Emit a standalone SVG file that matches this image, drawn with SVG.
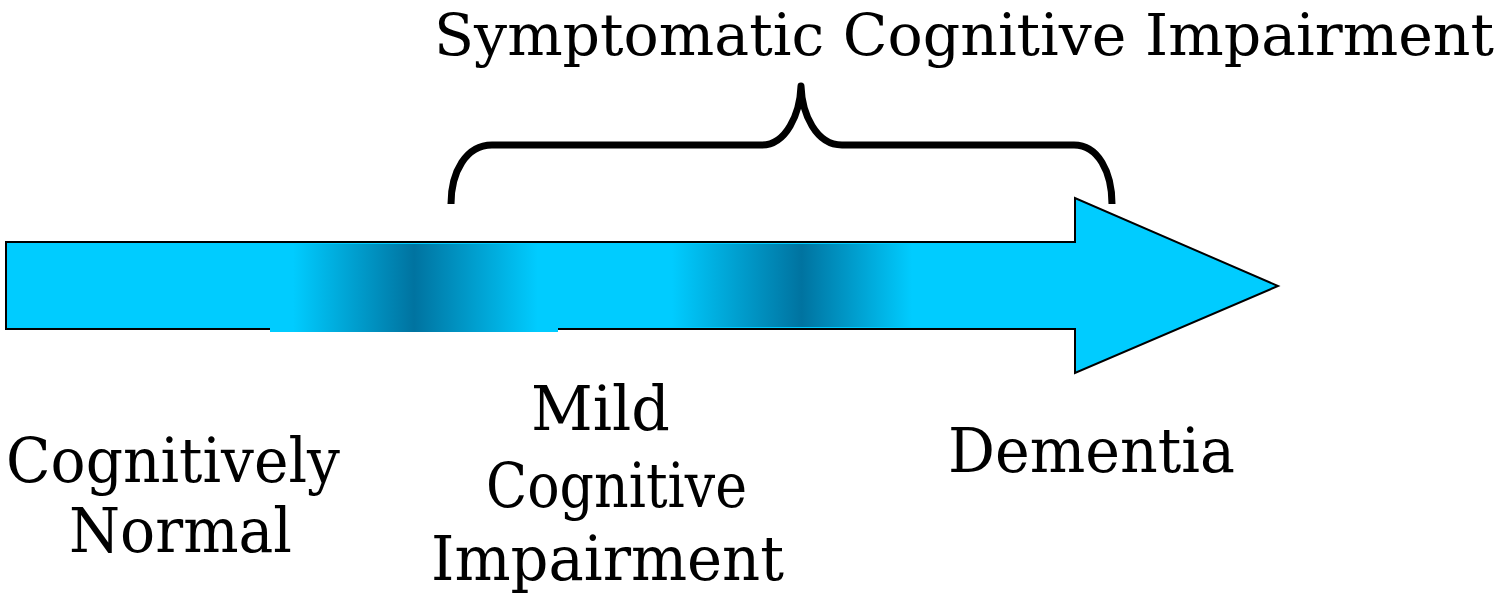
<svg xmlns="http://www.w3.org/2000/svg" width="1503" height="596" viewBox="0 0 1503 596">
  <style>
    .lbl { font-family: "DejaVu Serif", "Liberation Serif", serif; font-size: 62px; fill: #000; }
    .title { font-size: 58px; }
    .arrow { fill: #00CCFF; stroke: #000; stroke-width: 2; stroke-linejoin: miter; }
    .brace { fill: none; stroke: #000; stroke-width: 7; stroke-linejoin: round; }
  </style>
  <defs>
    <linearGradient id="band1" x1="0" y1="0" x2="1" y2="0">
      <stop offset="0" stop-color="#00CCFF"/>
      <stop offset="0.08" stop-color="#00CCFF"/>
      <stop offset="0.5" stop-color="#0073A0"/>
      <stop offset="0.93" stop-color="#00CCFF"/>
      <stop offset="1" stop-color="#00CCFF"/>
    </linearGradient>
    <linearGradient id="band2" x1="0" y1="0" x2="1" y2="0">
      <stop offset="0" stop-color="#00CCFF"/>
      <stop offset="0.54" stop-color="#0073A0"/>
      <stop offset="1" stop-color="#00CCFF"/>
    </linearGradient>
  </defs>

  <g id="timeline-arrow">
    <path class="arrow" d="M6,242 L1075,242 L1075,198 L1278,286 L1075,373 L1075,329 L6,329 Z"/>
    <rect x="270" y="244" width="288" height="88" fill="url(#band1)"/>
    <rect x="672" y="244" width="240" height="83" fill="url(#band2)"/>
  </g>

  <g id="connectors">
    <path class="brace" d="M451,204 C451,172 466,145 492,145 L762,145 C786,145 800,114 801,86 C802,114 816,145 842,145 L1074,145 C1098,145 1112,172 1112,204"/>
  </g>

  <g id="symptomatic-label">
    <text class="lbl title" x="434" y="55" textLength="1060" lengthAdjust="spacingAndGlyphs">Symptomatic Cognitive Impairment</text>
  </g>

  <g id="cognitively-normal">
    <text class="lbl" x="6" y="482" textLength="334" lengthAdjust="spacingAndGlyphs">Cognitively</text>
    <text class="lbl" x="69" y="552" textLength="223" lengthAdjust="spacingAndGlyphs">Normal</text>
  </g>

  <g id="mci">
    <text class="lbl" x="531" y="430" textLength="139" lengthAdjust="spacingAndGlyphs">Mild</text>
    <text class="lbl" x="486" y="507" textLength="261" lengthAdjust="spacingAndGlyphs">Cognitive</text>
    <text class="lbl" x="431" y="580" textLength="353" lengthAdjust="spacingAndGlyphs">Impairment</text>
  </g>

  <g id="dementia">
    <text class="lbl" x="948" y="472" textLength="287" lengthAdjust="spacingAndGlyphs">Dementia</text>
  </g>
</svg>
